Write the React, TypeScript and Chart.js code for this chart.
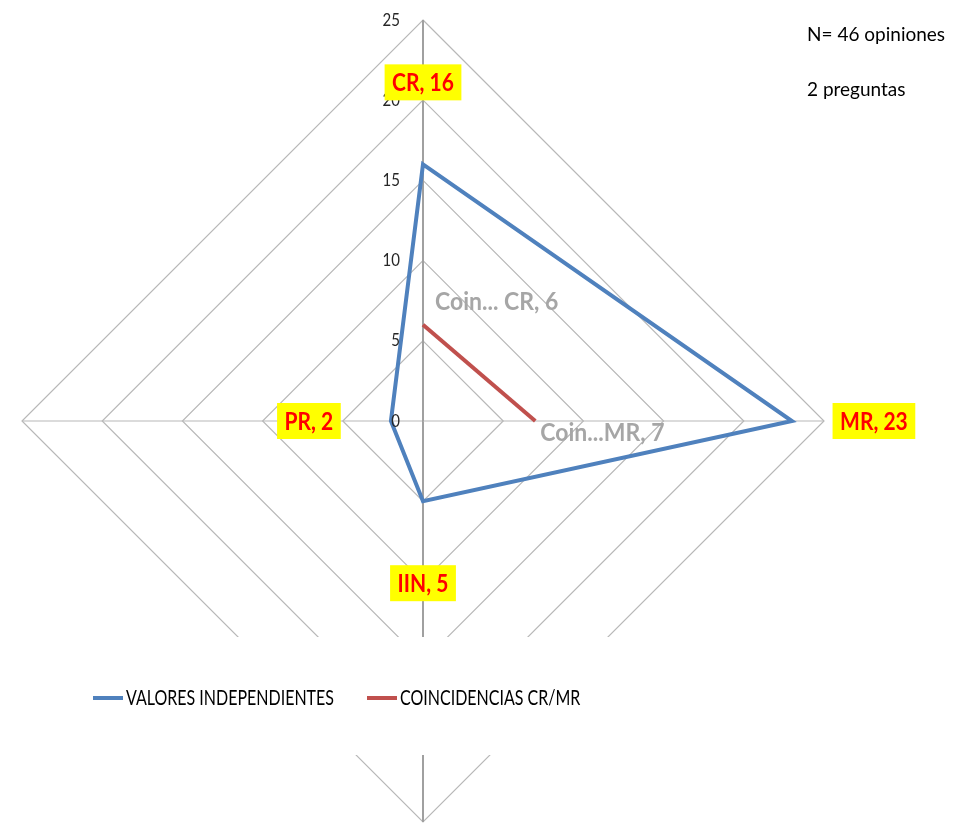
import React, { useEffect, useRef } from "react";
import { Chart, registerables } from "chart.js";

Chart.register(...registerables);

// Categories around the radar, clockwise from the top
const categories = ["CR", "MR", "IIN", "PR"];
// Series values
const independentValues: (number | null)[] = [16, 23, 5, 2];
const coincidenceValues: (number | null)[] = [6, 7, null, null];
// Value-axis tick labels
const tickValues = [0, 5, 10, 15, 20, 25];
const seriesNames = ["VALORES INDEPENDIENTES", "COINCIDENCIAS CR/MR"];
// Truncated series name shown in front of each coincidence label
const coincidencePrefixes = ["Coin... ", "Coin..."];
const noteLines = ["N= 46 opiniones", "2 preguntas"];

const FONT = "Lato, 'Open Sans', sans-serif";
const BLUE = "#4F81BD";
const RED = "#C0504D";
const GRID = "#B8B8B8";

// Label placement (pixels)
const VALUE_LABEL_OFFSET = 82;
const coincidenceLabelOffsets = [
  { dx: 12, dy: -23 },
  { dx: 5, dy: 12 },
];

function drawText(
  ctx: CanvasRenderingContext2D,
  text: string,
  x: number,
  y: number,
  font: string,
  color: string,
  align: CanvasTextAlign,
  stretch = 1.15
) {
  ctx.save();
  ctx.translate(x, y);
  ctx.scale(1, stretch);
  ctx.font = font;
  ctx.fillStyle = color;
  ctx.textAlign = align;
  ctx.textBaseline = "middle";
  ctx.fillText(text, 0, 0);
  ctx.restore();
}

const overlay = {
  id: "overlay",
  afterDatasetsDraw(chart: any) {
    const ctx: CanvasRenderingContext2D = chart.ctx;
    const r = chart.scales.r;

    // value-axis tick labels, left of the vertical spoke
    for (const t of tickValues) {
      const d = r.getDistanceFromCenterForValue(t);
      drawText(ctx, String(t), r.xCenter - 23, r.yCenter - d, `15px ${FONT}`, "#262626", "right");
    }

    // value labels for the independent series, pushed outward along each spoke
    categories.forEach((cat, i) => {
      const v = independentValues[i];
      if (v == null) return;
      const p = r.getPointPositionForValue(i, v);
      const dx = p.x - r.xCenter;
      const dy = p.y - r.yCenter;
      const len = Math.hypot(dx, dy) || 1;
      const cx = p.x + (dx / len) * VALUE_LABEL_OFFSET;
      const cy = p.y + (dy / len) * VALUE_LABEL_OFFSET;
      const text = `${cat}, ${v}`;
      const font = `bold 21px ${FONT}`;
      ctx.save();
      ctx.font = font;
      const w = ctx.measureText(text).width + 15;
      const h = 36;
      ctx.fillStyle = "#FFFF00";
      ctx.fillRect(cx - w / 2, cy - h / 2, w, h);
      ctx.restore();
      drawText(ctx, text, cx, cy + 1, font, "#FF0000", "center", 1.2);
    });

    // labels for the coincidence series
    categories.forEach((cat, i) => {
      const v = coincidenceValues[i];
      if (v == null) return;
      const p = r.getPointPositionForValue(i, v);
      const off = coincidenceLabelOffsets[i];
      drawText(
        ctx,
        `${coincidencePrefixes[i]}${cat}, ${v}`,
        p.x + off.dx,
        p.y + off.dy,
        `bold 23px ${FONT}`,
        "#A6A6A6",
        "left",
        1.1
      );
    });

    // legend panel laid over the lower part of the plot
    ctx.save();
    ctx.fillStyle = "#FFFFFF";
    ctx.fillRect(0, 637, 959, 118);
    const items = [
      { x: 93, color: BLUE },
      { x: 367, color: RED },
    ];
    items.forEach((it, i) => {
      ctx.strokeStyle = it.color;
      ctx.lineWidth = 4;
      ctx.beginPath();
      ctx.moveTo(it.x, 698);
      ctx.lineTo(it.x + 30, 698);
      ctx.stroke();
      drawText(ctx, seriesNames[i], it.x + 33, 698, `16px ${FONT}`, "#000000", "left", 1.3);
    });
    ctx.restore();

    // notes, top right
    drawText(ctx, noteLines[0], 807, 35, `19px ${FONT}`, "#000000", "left", 1.0);
    drawText(ctx, noteLines[1], 807, 90, `19px ${FONT}`, "#000000", "left", 1.0);
  },
};

export default function App() {
  const ref = useRef<HTMLCanvasElement>(null);

  useEffect(() => {
    const chart = new Chart(ref.current!, {
      type: "radar",
      data: {
        labels: categories,
        datasets: [
          {
            label: seriesNames[0],
            data: independentValues,
            borderColor: BLUE,
            borderWidth: 4,
            pointRadius: 0,
            fill: false,
            borderJoinStyle: "miter",
          },
          {
            label: seriesNames[1],
            data: coincidenceValues,
            borderColor: RED,
            borderWidth: 4,
            pointRadius: 0,
            fill: false,
            spanGaps: false,
          },
        ],
      },
      options: {
        animation: false,
        responsive: false,
        devicePixelRatio: 1,
        layout: { padding: { left: 22, right: 135, top: 20, bottom: 2 } },
        plugins: { legend: { display: false }, tooltip: { enabled: false } },
        scales: {
          r: {
            min: 0,
            max: 25,
            ticks: { display: false, stepSize: 5 },
            pointLabels: { display: false },
            grid: { color: GRID, lineWidth: 1.2 },
            angleLines: {
              color: (c: any) => (c.index % 2 === 0 ? "#A0A0A0" : GRID),
              lineWidth: (c: any) => (c.index % 2 === 0 ? 2 : 1.2),
            },
          },
        },
      } as any,
      plugins: [overlay],
    });
    return () => chart.destroy();
  }, []);

  return (
    <canvas
      ref={ref}
      width={959}
      height={824}
      style={{ position: "absolute", left: 0, top: 0, display: "block", background: "#FFFFFF" }}
    />
  );
}
